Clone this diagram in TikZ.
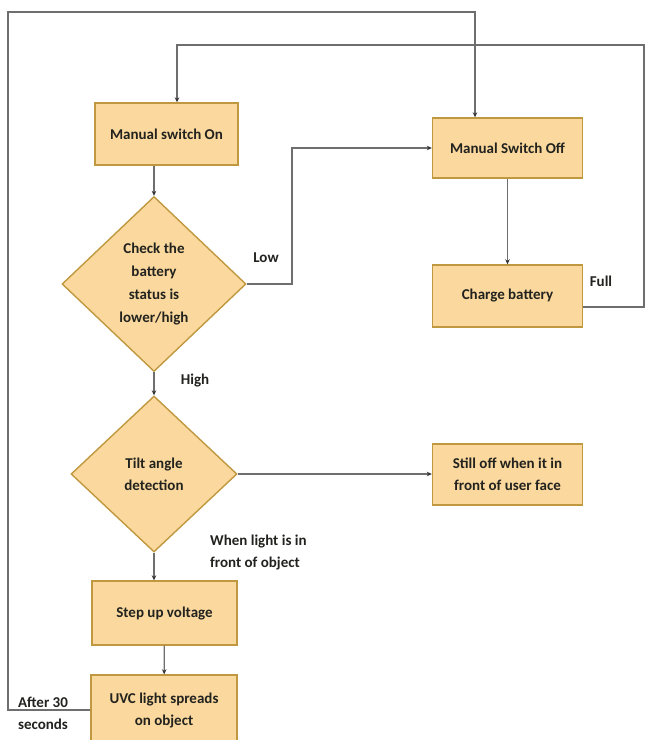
\documentclass[tikz,border=0pt]{standalone}
\usepackage{fontspec}
\setmainfont{Carlito}
\usetikzlibrary{shapes.geometric,arrows.meta}
\definecolor{boxfill}{RGB}{251,217,158}
\definecolor{boxline}{RGB}{192,152,63}
\definecolor{conn}{RGB}{110,110,110}
\definecolor{txt}{RGB}{34,34,30}
\tikzset{
  every node/.style={font=\fontsize{15pt}{22pt}\selectfont\bfseries, text=txt},
  procbox/.style={rectangle, draw=boxline, fill=boxfill, line width=1.4pt, inner sep=0pt, align=center},
  decide/.style={diamond, draw=boxline, fill=boxfill, line width=1.4pt, inner sep=0pt, align=center, aspect=1.05},
  conn/.style={draw=conn, line width=1.2pt},
  arr/.style={conn, -{Stealth[length=5pt,width=4.5pt,color=black!80]}},
  lbl/.style={inner sep=0pt, align=left}
}
\begin{document}
\begin{tikzpicture}[x=1pt,y=-1pt]
\useasboundingbox (0,0) rectangle (646,740);
\fill[white] (0,0) rectangle (646,740);

\node[procbox, minimum width=143pt, minimum height=62pt] (on) at (166.5,134) {Manual switch On};
\node[decide, minimum width=184pt, minimum height=175pt, font=\fontsize{15pt}{23pt}\selectfont\bfseries] (c1) at (154,284) {Check the\\battery\\status is\\lower/high};
\node[procbox, minimum width=150pt, minimum height=60pt] (off) at (507.5,148) {Manual Switch Off};
\node[procbox, minimum width=150pt, minimum height=62pt] (charge) at (507.5,296) {Charge battery};
\node[decide, minimum width=166pt, minimum height=156pt] (c2) at (154,474) {Tilt angle\\detection};
\node[procbox, minimum width=150pt, minimum height=61pt] (still) at (507.5,474.5) {Still off when it in\\front of user face};
\node[procbox, minimum width=145pt, minimum height=64pt] (step) at (164.5,613) {Step up voltage};
\node[procbox, minimum width=146pt, minimum height=70pt] (uvc) at (164,710) {UVC light spreads\\on object};

% labels
\node[lbl] (low) at (266,258) {Low};
\node[lbl] (full) at (601,281) {Full};
\node[lbl] (high) at (195,381) {High};
\node[lbl, anchor=west] (when) at (210,552) {When light is in\\front of object};
\node[lbl, align=center] (after) at (43,713) {After 30\\seconds};

% connectors
\coordinate (topA) at (475,12);
\coordinate (topB) at (177,45);
\draw[arr] (uvc.west) -- (8,710) -- (8,12) -- (topA) -- (topA |- off.north);
\draw[arr] (charge.east |- 0,307) -- (644,307) -- (644,45) -- (topB) -- (topB |- on.north);
\draw[arr] (on.south -| c1.north) -- (c1.north);
\draw[arr] (c1.east) -- (292,284) |- (off.west);
\draw[arr] (off) -- (charge);
\draw[arr] (c1.south) -- (c2.north);
\draw[arr] (c2.east) -- (c2.east -| still.west);
\draw[arr] (c2.south) -- (c2.south |- step.north);
\draw[arr] (step) -- (uvc);
\end{tikzpicture}
\end{document}
